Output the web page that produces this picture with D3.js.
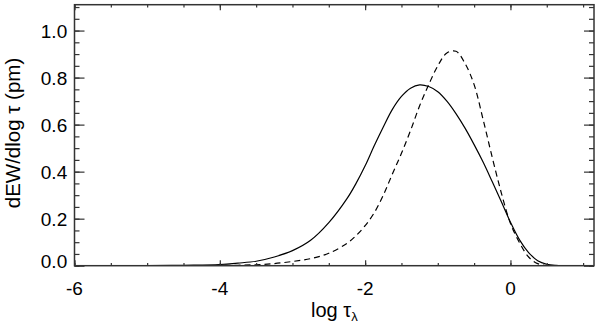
<!DOCTYPE html>
<html>
<head>
<meta charset="utf-8">
<script src="https://d3js.org/d3.v7.min.js"></script>
<style>
  body { margin: 0; background: #fff; }
  text { font-family: "Liberation Sans", Arial, Helvetica, sans-serif; fill: #000; }
</style>
</head>
<body>
<div id="chart"></div>
<script>
// log tau sample points
var logTau = [-6, -5, -4.5, -4, -3.75, -3.5, -3.25, -3, -2.75, -2.5, -2.25, -2.125, -2, -1.875, -1.75,
    -1.625, -1.5, -1.375, -1.25, -1.125, -1, -0.875, -0.75, -0.625, -0.5, -0.375, -0.25,
    -0.125, 0, 0.125, 0.25, 0.375, 0.5, 0.625, 0.75, 1, 1.15];

// solid curve
var solidEW = [0, 0, 0.002, 0.005, 0.011, 0.019, 0.037, 0.064, 0.108, 0.183, 0.285, 0.35, 0.425, 0.51, 0.59,
    0.665, 0.72, 0.755, 0.769, 0.762, 0.74, 0.70, 0.647, 0.585, 0.515, 0.44, 0.357,
    0.272, 0.185, 0.11, 0.056, 0.021, 0.006, 0.001, 0, 0, 0];

// dashed curve
var dashedEW = [0, 0, 0, 0.001, 0.002, 0.004, 0.009, 0.018, 0.03, 0.053, 0.095, 0.128, 0.17, 0.225, 0.30,
    0.39, 0.478, 0.575, 0.68, 0.77, 0.85, 0.905, 0.912, 0.86, 0.77, 0.62, 0.46,
    0.309, 0.18, 0.098, 0.037, 0.009, 0.001, 0, 0, 0, 0];

var xMajor = [-6, -4, -2, 0];
var xMinor = d3.range(-6, 1.01, 0.5);
var yMajor = [0, 0.2, 0.4, 0.6, 0.8, 1.0];
var yMinor = d3.range(0, 1.101, 0.05);

var svgWidth = 600;
var svgHeight = 325;

var margin = {
    top: 4.7,
    right: 6,
    bottom: 59.3,
    left: 74.5
};

var width = svgWidth - margin.left - margin.right;
var height = svgHeight - margin.top - margin.bottom;

var svg = d3.select("#chart")
    .append("svg")
    .attr("width", svgWidth)
    .attr("height", svgHeight);

var chartGroup = svg.append("g")
    .attr("transform", `translate(${margin.left}, ${margin.top})`);

var xScale = d3.scaleLinear().domain([-6, 1.15]).range([0, width]);
var yScale = d3.scaleLinear().domain([0, 1.11]).range([height, 0]);

// clip for curves
svg.append("defs").append("clipPath").attr("id", "plotClip")
    .append("rect").attr("width", width).attr("height", height);

// curves
var solidData = logTau.map((t, i) => [t, solidEW[i]]);
var dashedData = logTau.map((t, i) => [t, dashedEW[i]]);

var line = d3.line()
    .x(d => xScale(d[0]))
    .y(d => yScale(d[1]))
    .curve(d3.curveCatmullRom.alpha(0.5));

var curves = chartGroup.append("g").attr("clip-path", "url(#plotClip)");

curves.append("path")
    .datum(solidData)
    .attr("d", line)
    .attr("fill", "none")
    .attr("stroke", "#000")
    .attr("stroke-width", 1.2);

curves.append("path")
    .datum(dashedData)
    .attr("d", line)
    .attr("fill", "none")
    .attr("stroke", "#000")
    .attr("stroke-width", 1.2)
    .attr("stroke-dasharray", "6,4");

// axes: ticks all point inward
function styleAxis(g) {
    g.select(".domain").remove();
    g.selectAll(".tick line").attr("stroke", "#333").attr("stroke-width", 1.2);
}

chartGroup.append("g")
    .attr("transform", `translate(0, ${height})`)
    .call(d3.axisBottom(xScale).tickValues(xMinor).tickSize(-2.8).tickFormat(""))
    .call(styleAxis);
chartGroup.append("g")
    .call(d3.axisTop(xScale).tickValues(xMinor).tickSize(-2.8).tickFormat(""))
    .call(styleAxis);
chartGroup.append("g")
    .attr("transform", `translate(0, ${height})`)
    .call(d3.axisBottom(xScale).tickValues(xMajor).tickSize(-5.5).tickFormat(""))
    .call(styleAxis);
chartGroup.append("g")
    .call(d3.axisTop(xScale).tickValues(xMajor).tickSize(-5.5).tickFormat(""))
    .call(styleAxis);

chartGroup.append("g")
    .call(d3.axisLeft(yScale).tickValues(yMinor).tickSize(-5).tickFormat(""))
    .call(styleAxis);
chartGroup.append("g")
    .attr("transform", `translate(${width}, 0)`)
    .call(d3.axisRight(yScale).tickValues(yMinor).tickSize(-5).tickFormat(""))
    .call(styleAxis);
chartGroup.append("g")
    .call(d3.axisLeft(yScale).tickValues(yMajor).tickSize(-10).tickFormat(""))
    .call(styleAxis);
chartGroup.append("g")
    .attr("transform", `translate(${width}, 0)`)
    .call(d3.axisRight(yScale).tickValues(yMajor).tickSize(-10).tickFormat(""))
    .call(styleAxis);

// frame
chartGroup.append("rect")
    .attr("width", width)
    .attr("height", height)
    .attr("fill", "none")
    .attr("stroke", "#333")
    .attr("stroke-width", 1.5);

// tick labels (plain hyphen for negatives, as in the original)
chartGroup.selectAll(".xlab")
    .data(xMajor)
    .enter()
    .append("text")
    .attr("class", "xlab")
    .attr("x", d => xScale(d))
    .attr("y", height + 29.3)
    .attr("text-anchor", "middle")
    .style("font-size", "19px")
    .text(d => String(d));

chartGroup.selectAll(".ylab")
    .data(yMajor)
    .enter()
    .append("text")
    .attr("class", "ylab")
    .attr("x", -7.3)
    .attr("y", d => yScale(d) + (d === 0 ? 2 : 7.3))
    .attr("text-anchor", "end")
    .style("font-size", "19px")
    .text(d => d.toFixed(1));

// axis titles
var xTitle = chartGroup.append("text")
    .attr("x", 311 - margin.left)
    .attr("y", 316.7 - margin.top)
    .style("font-size", "20px");
xTitle.append("tspan").text("log \u03c4");
xTitle.append("tspan")
    .attr("dy", 4)
    .style("font-size", "13px")
    .text("\u03bb");

chartGroup.append("text")
    .attr("transform", `translate(${19.5 - margin.left}, ${133 - margin.top}) rotate(-90)`)
    .attr("text-anchor", "middle")
    .style("font-size", "20.5px")
    .text("dEW/dlog \u03c4 (pm)");
</script>
</body>
</html>
